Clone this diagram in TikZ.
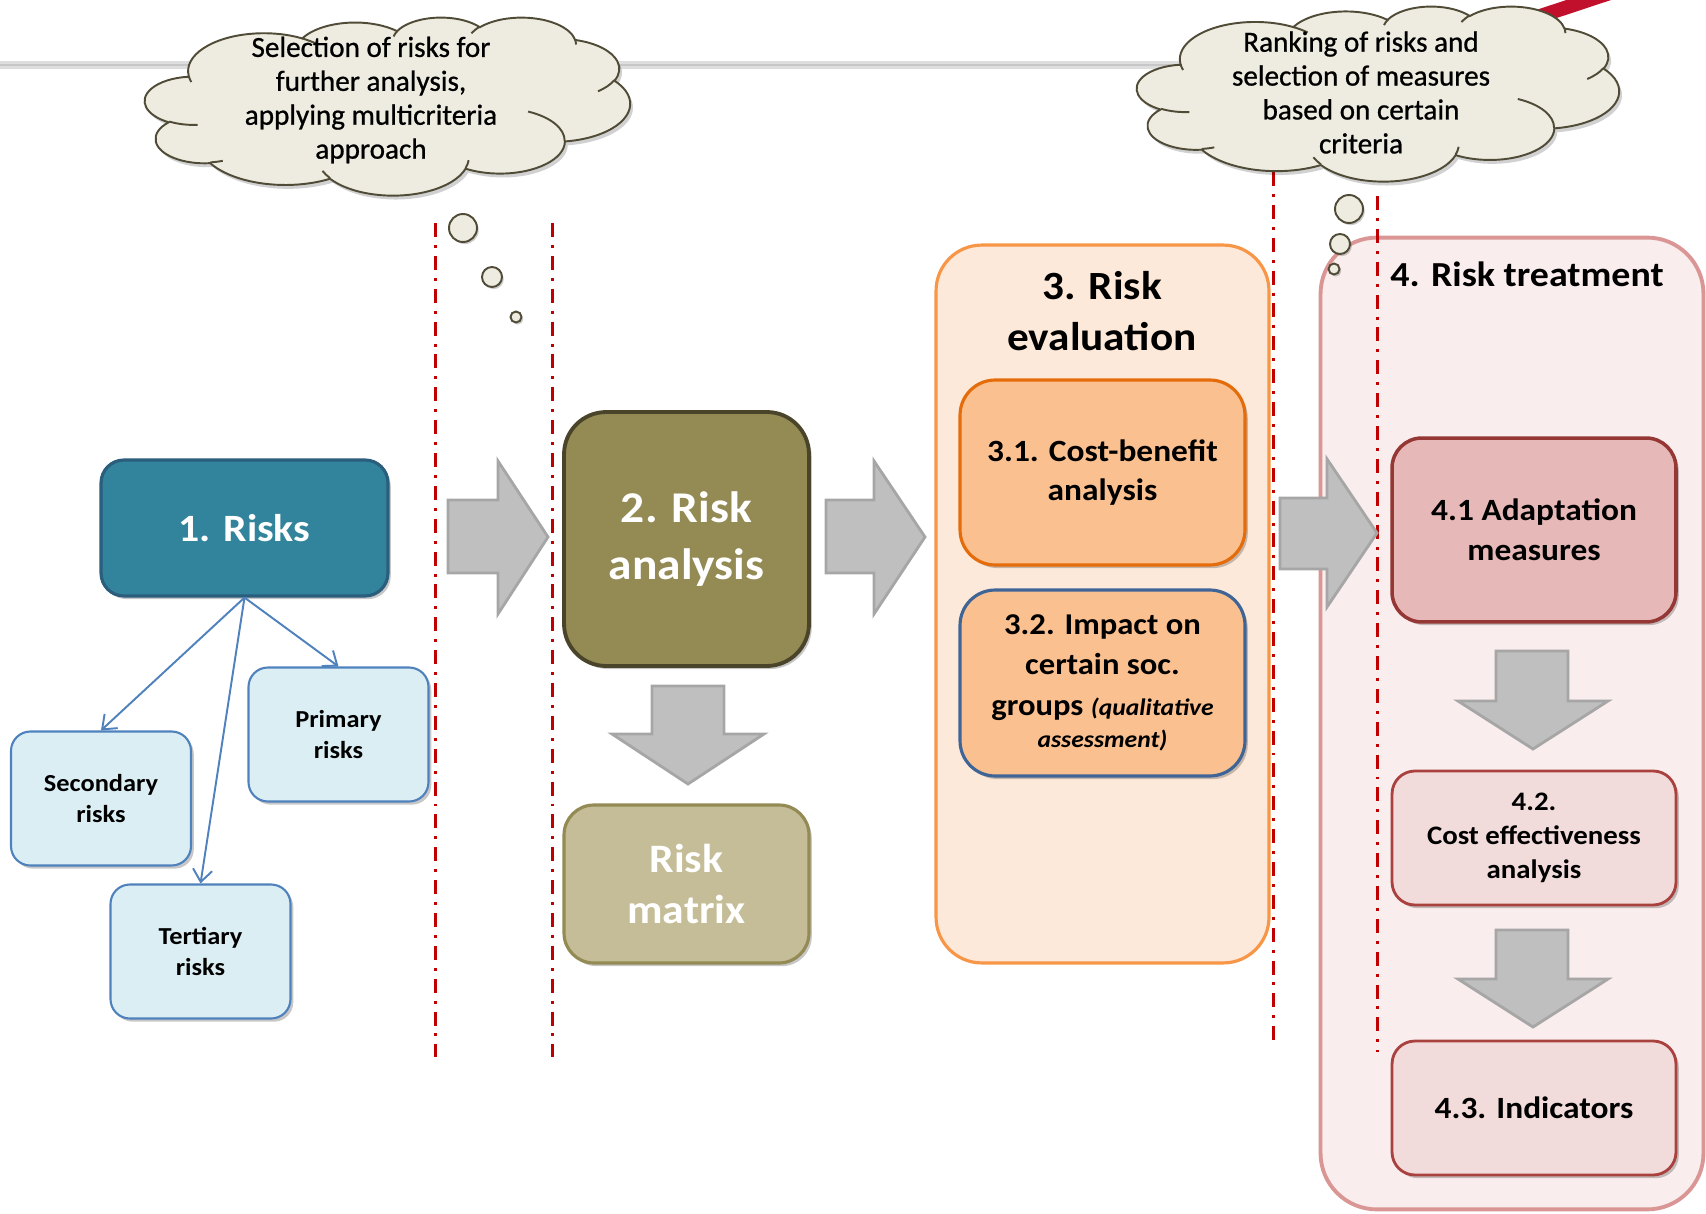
\documentclass[tikz,border=0pt]{standalone}
\usepackage{fontspec}
\setmainfont{Carlito}
\newfontfamily\boxfont{Carlito}[FakeStretch=1.08]
\newfontfamily\cloudfont{Carlito}[FakeBold=0.8]
\usetikzlibrary{shadows,arrows.meta}

\definecolor{riskfill}{HTML}{31849B}
\definecolor{riskline}{HTML}{2B5D7D}
\definecolor{subfill}{HTML}{DBEEF4}
\definecolor{subline}{HTML}{4F81BD}
\definecolor{olive}{HTML}{948A54}
\definecolor{oliveline}{HTML}{4A452A}
\definecolor{olivelight}{HTML}{C4BD97}
\definecolor{evalfill}{HTML}{FDE9D9}
\definecolor{evalline}{HTML}{F79646}
\definecolor{peach}{HTML}{FAC090}
\definecolor{peachline}{HTML}{E46C0A}
\definecolor{impline}{HTML}{3F6597}
\definecolor{treatfill}{HTML}{F9EDED}
\definecolor{treatline}{HTML}{D99694}
\definecolor{rosefill}{HTML}{E6B9B8}
\definecolor{roseline}{HTML}{953735}
\definecolor{palerose}{HTML}{F2DCDB}
\definecolor{paleroseline}{HTML}{A9423F}
\definecolor{blockfill}{HTML}{BFBFBF}
\definecolor{blockline}{HTML}{A6A6A6}
\definecolor{cutline}{HTML}{C00000}
\definecolor{thought}{HTML}{EEECE1}
\definecolor{thoughtline}{HTML}{4F4B36}
\definecolor{topbar}{HTML}{D0D0D0}
\definecolor{accent}{HTML}{C0102C}

% one elliptical lobe of the cloud outline: x radius, y radius,
% start angle and sweep given as angles seen from the lobe centre
\newcommand\lobe[4]{%
  \pgfextra{%
    \pgfmathsetmacro\lobeA{atan2((#1)*sin(#3),(#2)*cos(#3))}%
    \pgfmathsetmacro\lobeB{atan2((#1)*sin((#3)+(#4)),(#2)*cos((#3)+(#4)))}%
    \pgfmathsetmacro\lobeD{mod(\lobeB-\lobeA+720,360)}%
    \xdef\lobeA{\lobeA}\xdef\lobeD{\lobeD}}%
  arc[start angle=\lobeA, delta angle=\lobeD, x radius=#1, y radius=#2]}

% cloud outline in a 432 x 432 box
\newcommand\cloudoutline{%
  (39,143.7)
  \lobe{67.53}{91.90}{-190.48748}{123.78053}
  \lobe{53.33}{72.67}{-144.10238}{89.94523}
  \lobe{43.65}{59.45}{-145.80792}{99.72302}
  \lobe{48.57}{65.95}{-130.98607}{117.24173}
  \lobe{53.33}{72.73}{-78.70888}{109.02692}
  \lobe{67.75}{92.20}{-46.26725}{130.269}
  \lobe{57.85}{78.67}{0.62502}{114.03333}
  \lobe{67.52}{92.15}{22.4516}{115.17255}
  \lobe{77.20}{105.43}{66.24263}{75.71102}
  \lobe{43.60}{59.18}{-274.94208}{146.73569}
  \lobe{43.45}{59.45}{-246.8285}{152.51885}
  -- cycle}

% inner creases of the cloud
\newcommand\cloudcreases{%
  (46.93,261.77) \lobe{43.45}{59.45}{86.742}{26.4295}
  (69.28,348.99) \lobe{43.60}{59.18}{73.6105}{11.4475}
  (164.78,390.90) \lobe{67.52}{92.15}{137.6242}{14.0811}
  (288.27,347.51) \lobe{67.52}{92.15}{6.4533}{15.9984}
  (341.29,229.54) \lobe{57.85}{78.67}{-70.2924}{70.9174}
  (417.98,153.54) \lobe{53.33}{72.73}{30.318}{27.7515}
  (383.24,54.26) \lobe{48.57}{65.95}{-13.7443}{14.8589}
  (290.78,39.52) \lobe{48.57}{65.95}{-149.1815}{18.1954}
  (221.41,47.20) \lobe{43.65}{59.45}{-163.4943}{17.6864}
  (140.00,51.92) \lobe{67.53}{91.90}{-66.707}{12.3194}
  (41.27,157.89) \lobe{67.53}{91.90}{157.6544}{11.8582}}

\tikzset{
  softshadow/.style={drop shadow={shadow xshift=1.6pt,shadow yshift=-1.8pt,opacity=0.22,fill=black}},
  card/.style={rectangle, align=center, inner sep=0pt, softshadow},
  mainrisk/.style={card, fill=riskfill, draw=riskline, line width=1.8pt, rounded corners=13pt,
    minimum width=5.74cm, minimum height=2.72cm, text=white,
    font=\boxfont\bfseries\fontsize{22}{26}\selectfont},
  subrisk/.style={card, fill=subfill, draw=subline, line width=1.2pt, rounded corners=11pt,
    minimum width=3.6cm, minimum height=2.68cm,
    font=\boxfont\bfseries\fontsize{13.9}{17.9}\selectfont},
  analysisbox/.style={card, fill=olive, draw=oliveline, line width=2.2pt, rounded corners=24pt,
    minimum width=4.9cm, minimum height=5.08cm, text=white,
    font=\boxfont\bfseries\fontsize{25}{32.3}\selectfont},
  matrixbox/.style={card, fill=olivelight, draw=olive, line width=1.8pt, rounded corners=17pt,
    minimum width=4.9cm, minimum height=3.16cm, text=white,
    font=\boxfont\bfseries\fontsize{23}{29}\selectfont},
  container/.style={rectangle, inner sep=0pt, line width=1.8pt},
  peachbox/.style={card, fill=peach, line width=1.8pt, rounded corners=20pt,
    minimum width=5.7cm, minimum height=3.7cm},
  rosebox/.style={card, line width=1.6pt, minimum width=5.68cm},
  title/.style={align=center, inner sep=0pt},
  block/.style={fill=blockfill, draw=blockline, line width=1.6pt, line join=miter},
  cutmark/.style={cutline, line width=1.7pt, dash pattern=on 8pt off 4.5pt on 1.7pt off 4.5pt},
  link/.style={subline, line width=1.1pt, -{Straight Barb[length=7pt,width=11pt,line width=1.1pt]}},
  cloudbody/.style={fill=thought, draw=thoughtline, line width=1.1pt,
    preaction={fill=black, opacity=0.18, transform canvas={shift={(1.6pt,-2.2pt)}}}},
  creaseline/.style={draw=thoughtline, line width=1.1pt},
  thoughttext/.style={align=center, inner sep=0pt, font=\cloudfont\fontsize{16.6}{19.3}\selectfont},
  bubble/.style={circle, fill=thought, draw=thoughtline, line width=1.1pt, inner sep=0pt,
    drop shadow={shadow xshift=1pt,shadow yshift=-1.2pt,opacity=0.2,fill=black}},
}

\begin{document}
\begin{tikzpicture}[x=0.02cm, y=-0.02cm]
  \useasboundingbox (0,0) rectangle (1706,1213);

  % header rule and accent stroke
  \draw[topbar!70, line width=4pt] (0,65) -- (1200,65);
  \draw[topbar!120, line width=1.6pt] (0,65) -- (1200,65);
  \draw[accent, line width=8pt] (1480,36) -- (1640,-17);

  % stage containers
  \node[container, fill=evalfill, draw=evalline, rounded corners=26pt,
        minimum width=6.66cm, minimum height=14.36cm] (evalstage) at (1102.5,604) {};
  \node[container, fill=treatfill, draw=treatline, line width=2.2pt, rounded corners=32pt,
        minimum width=7.66cm, minimum height=19.44cm] (treatstage) at (1512,723.5) {};
  \node[title, font=\boxfont\bfseries\fontsize{22.8}{29}\selectfont] (evaltitle) at (1102,311) {3. Risk\\evaluation};
  \node[title, font=\boxfont\bfseries\fontsize{20}{24}\selectfont] (treattitle) at (1527,274) {4. Risk treatment};

  % dash-dot separators
  \draw[cutmark] (435,223) -- (435,1057);
  \draw[cutmark] (552,223) -- (552,1057);
  \draw[cutmark] (1273,172) -- (1273,1047);
  \draw[cutmark] (1377,196) -- (1377,1052);

  % stage 1
  \node[mainrisk] (risks) at (244.5,528) {1. Risks};
  \node[subrisk] (secondary) at (101,798.5) {Secondary\\risks};
  \node[subrisk] (primary) at (338.5,734.5) {Primary\\risks};
  \node[subrisk] (tertiary) at (200.5,951.5) {Tertiary\\risks};
  \draw[link] (risks.south) -- (secondary.north);
  \draw[link] (risks.south) -- (tertiary.north);
  \draw[link] (risks.south) -- (primary.north);

  % stage 2
  \node[analysisbox] (analysis) at (686.5,539) {2. Risk\\analysis};
  \node[matrixbox] (matrix) at (686.5,884) {Risk\\matrix};

  % stage 3
  \node[peachbox, draw=peachline, font=\boxfont\bfseries\fontsize{17.6}{22.7}\selectfont]
        (cba) at (1102.5,472.5) {3.1. Cost-benefit\\analysis};
  \node[peachbox, draw=impline, minimum height=3.72cm, font=\boxfont\bfseries\fontsize{17.2}{23.1}\selectfont]
        (impact) at (1102.5,683)
    {3.2. Impact on\\certain soc.\\groups {\itshape\fontsize{13.5}{15}\selectfont(qualitative}\\[-4.6pt]
     {\itshape\fontsize{13.5}{15}\selectfont assessment)}};

  % stage 4
  \node[rosebox, fill=rosefill, draw=roseline, line width=2pt, rounded corners=17pt,
        minimum height=3.68cm, font=\boxfont\bfseries\fontsize{17.6}{22.7}\selectfont]
        (adapt) at (1534,530) {4.1 Adaptation\\measures};
  \node[rosebox, fill=palerose, draw=paleroseline, rounded corners=13pt,
        minimum height=2.68cm, font=\boxfont\bfseries\fontsize{15.2}{19.5}\selectfont]
        (costeff) at (1534,838) {4.2.\\Cost effectiveness\\analysis};
  \node[rosebox, fill=palerose, draw=paleroseline, rounded corners=13pt,
        minimum height=2.68cm, font=\boxfont\bfseries\fontsize{17.6}{20}\selectfont]
        (indicators) at (1534,1108) {4.3. Indicators};

  % block arrows between stages
  \draw[block] (448,500) -- (498,500) -- (498,461) -- (548,537) -- (498,614) -- (498,573) -- (448,573) -- cycle;
  \draw[block] (826,500) -- (874,500) -- (874,461) -- (925,537) -- (874,614) -- (874,573) -- (826,573) -- cycle;
  \draw[block] (1280,498) -- (1327,498) -- (1327,459) -- (1377,533) -- (1327,607) -- (1327,569) -- (1280,569) -- cycle;
  \draw[block] (652,686) -- (724,686) -- (724,734) -- (764,734) -- (688,784) -- (612,734) -- (652,734) -- cycle;
  \draw[block] (1496,651) -- (1568,651) -- (1568,701) -- (1608,701) -- (1533,749) -- (1458,701) -- (1496,701) -- cycle;
  \draw[block] (1496,930) -- (1568,930) -- (1568,979) -- (1608,979) -- (1533,1027) -- (1458,979) -- (1496,979) -- cycle;

  % thought clouds
  \begin{scope}[shift={(145,17)}, xscale=485/432, yscale=178/432]
    \path[cloudbody] \cloudoutline;
    \draw[creaseline] \cloudcreases;
  \end{scope}
  \node[thoughttext] (seltext) at (371,100)
    {Selection of risks for\\further analysis,\\applying multicriteria\\approach};
  \node[bubble, minimum size=0.56cm] (selb1) at (463,228) {};
  \node[bubble, minimum size=0.4cm] (selb2) at (492,277) {};
  \node[bubble, minimum size=0.22cm] (selb3) at (516,317) {};

  \begin{scope}[shift={(1137,6)}, xscale=482/432, yscale=175/432]
    \path[cloudbody] \cloudoutline;
    \draw[creaseline] \cloudcreases;
  \end{scope}
  \node[thoughttext] (ranktext) at (1361,92.5)
    {Ranking of risks and\\selection of measures\\based on certain\\criteria};
  \node[bubble, minimum size=0.56cm] (rankb1) at (1349,209) {};
  \node[bubble, minimum size=0.4cm] (rankb2) at (1340,244) {};
  \node[bubble, minimum size=0.22cm] (rankb3) at (1334,269) {};
\end{tikzpicture}
\end{document}
